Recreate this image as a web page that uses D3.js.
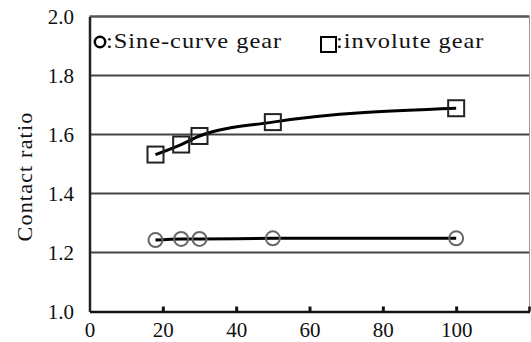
<!DOCTYPE html>
<html><head><meta charset="utf-8">
<script src="https://cdn.jsdelivr.net/npm/d3@7"></script>
<style>html,body{margin:0;padding:0;background:#fff;}svg{display:block;}</style>
</head><body>
<svg id="c" width="531" height="342"></svg>
<script>
const teeth = [18, 25, 30, 50, 100];
const sineRatio = [1.242, 1.246, 1.246, 1.248, 1.248];
const involuteRatio = [1.532, 1.566, 1.595, 1.642, 1.689];
const xTicks = [0, 20, 40, 60, 80, 100];
const yTicks = [1.0, 1.2, 1.4, 1.6, 1.8, 2.0];
const legendLabels = [":Sine-curve gear", ":involute gear"];
const yTitle = "Contact ratio";

const svg = d3.select("#c");
const font = "Liberation Serif";
const fs = 21;
const L = 89.5, R = 529.5, T = 16.5, B = 311.5;
const x = d3.scaleLinear().domain([0, 120]).range([L, R]);
const y = d3.scaleLinear().domain([1.0, 2.0]).range([B, T]);

svg.append("g").selectAll("line").data(yTicks.filter(v => v > 1.0 && v < 2.0)).join("line")
  .attr("x1", L).attr("x2", R).attr("y1", d => y(d)).attr("y2", d => y(d))
  .attr("stroke", "#444").attr("stroke-width", 2);
svg.append("line").attr("x1", L).attr("x2", R).attr("y1", T).attr("y2", T).attr("stroke", "#555").attr("stroke-width", 2.5);
svg.append("line").attr("x1", R).attr("x2", R).attr("y1", T).attr("y2", B).attr("stroke", "#999").attr("stroke-width", 1);

const xAxis = d3.axisBottom(x).tickValues(xTicks).tickFormat(d3.format("d")).tickSizeInner(-5).tickSizeOuter(0).tickPadding(11);
const gx = svg.append("g").attr("transform", `translate(0,${B})`).call(xAxis);
gx.select(".domain").attr("stroke", "#111").attr("stroke-width", 2.5);
gx.selectAll(".tick line").attr("stroke", "#111").attr("stroke-width", 3);
gx.selectAll(".tick").filter(d => d === 0).select("line").remove();
gx.append("line").attr("x1", R).attr("x2", R).attr("y1", 0).attr("y2", -5).attr("stroke", "#111").attr("stroke-width", 2.5);
gx.selectAll("text").attr("fill", "#111").style("font-family", font).style("font-size", fs + "px");

const yAxis = d3.axisLeft(y).tickValues(yTicks).tickFormat(d3.format(".1f")).tickSize(0).tickPadding(15.5);
const gy = svg.append("g").attr("transform", `translate(${L},0)`).call(yAxis);
gy.select(".domain").attr("stroke", "#222").attr("stroke-width", 2.5);
gy.selectAll("text").attr("fill", "#111").style("font-family", font).style("font-size", fs + "px");

svg.append("text").attr("transform", `translate(32,176.5) rotate(-90)`)
  .attr("text-anchor", "middle").style("font-family", font).style("font-size", "22px")
  .attr("letter-spacing", 1.2).attr("fill", "#111").text(yTitle);

const line = d3.line().x((d, i) => x(teeth[i])).y(d => y(d)).curve(d3.curveMonotoneX);
svg.append("path").datum(sineRatio).attr("d", line).attr("fill", "none").attr("stroke", "#000").attr("stroke-width", 3);
svg.append("path").datum(involuteRatio).attr("d", line).attr("fill", "none").attr("stroke", "#000").attr("stroke-width", 3);

svg.append("g").selectAll("circle").data(sineRatio).join("circle")
  .attr("cx", (d, i) => x(teeth[i])).attr("cy", d => y(d)).attr("r", 7)
  .attr("fill", "none").attr("stroke", "#666").attr("stroke-width", 2);
const s = 16;
svg.append("g").selectAll("rect").data(involuteRatio).join("rect")
  .attr("x", (d, i) => x(teeth[i]) - s / 2).attr("y", d => y(d) - s / 2).attr("width", s).attr("height", s)
  .attr("fill", "none").attr("stroke", "#222").attr("stroke-width", 2);

const lg = svg.append("g");
lg.append("circle").attr("cx", 100).attr("cy", 42).attr("r", 5.2).attr("fill", "none").attr("stroke", "#000").attr("stroke-width", 2.5);
lg.append("rect").attr("x", 321).attr("y", 37).attr("width", 15).attr("height", 15).attr("fill", "none").attr("stroke", "#000").attr("stroke-width", 2);
[[106, legendLabels[0]], [336, legendLabels[1]]].forEach(([lx, t]) => {
  lg.append("text").attr("transform", `translate(${lx},48) scale(1.22,1)`)
    .style("font-family", font).style("font-size", "20px").attr("letter-spacing", 0.8)
    .attr("fill", "#111").text(t);
});
</script>
</body></html>
